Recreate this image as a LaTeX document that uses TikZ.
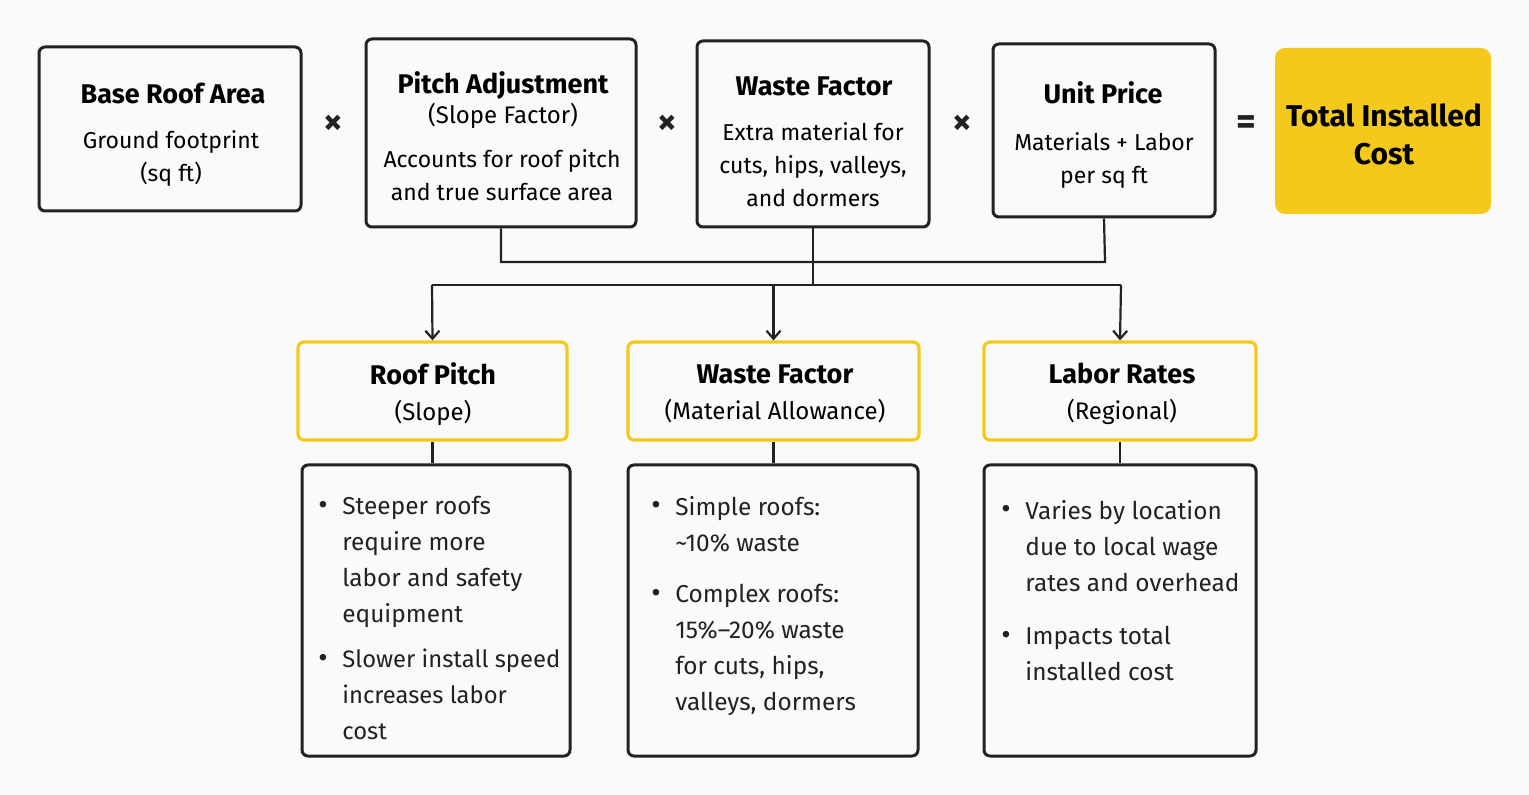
\documentclass[tikz,border=0pt]{standalone}
\usepackage{fontspec}
\setmainfont{Fira Sans}
\usetikzlibrary{arrows.meta}
\definecolor{ylw}{HTML}{F5C91C}
\definecolor{ink}{HTML}{222222}
\newcommand{\bul}{\raisebox{0.3pt}{\Large\textbullet}}
\newcommand{\blist}[1]{\begin{tabular}{@{}p{9pt}@{\hspace{3pt}}l@{}}#1\end{tabular}}
\begin{document}
\begin{tikzpicture}[x=0.5pt,y=-0.5pt,
  top/.style={draw=ink,line width=1.5pt,rounded corners=3pt,align=center,inner sep=0pt},
  ybox/.style={draw=ylw,line width=1.6pt,rounded corners=3pt,align=center,inner sep=0pt,minimum height=49pt},
  bbox/.style={draw=ink,line width=1.5pt,rounded corners=3pt,inner sep=0pt,minimum height=145.5pt},
  ttl/.style={font=\fontsize{13.5}{16}\selectfont\bfseries},
  op/.style={font=\fontsize{19}{19}\selectfont\bfseries,text=ink},
  con/.style={draw=ink,line width=1.1pt},
  arr/.style={con,-{Straight Barb[length=4pt,width=7pt]}},
  bt/.style={anchor=north west,inner sep=0pt,font=\fontsize{12.2}{18}\selectfont,text=ink}]
\fill[white!98!black] (0,0) rectangle (1529,795);
\useasboundingbox (0,0) rectangle (1529,795);
% top row
\node[top,minimum width=131pt,minimum height=82pt] (base) at (170,129) {};
\node[ttl] (baset) at (173,93) {Base Roof Area};
\node[align=center,font=\fontsize{11.5}{16.5}\selectfont] (baseb) at (171,158) {Ground footprint\\(sq ft)};
\node[top,minimum width=135pt,minimum height=94pt] (pitch) at (501,133) {};
\node[ttl,align=center] (pitcht) at (503,100) {Pitch Adjustment\\[-1pt]\fontsize{12}{16}\selectfont\mdseries(Slope Factor)};
\node[align=center,font=\fontsize{11.5}{16.5}\selectfont] (pitchb) at (502,175) {Accounts for roof pitch\\and true surface area};
\node[top,minimum width=116pt,minimum height=93pt] (waste) at (813,134) {};
\node[ttl] (wastet) at (814,86) {Waste Factor};
\node[align=center,font=\fontsize{11.5}{16.5}\selectfont] (wasteb) at (813,165) {Extra material for\\cuts, hips, valleys,\\and dormers};
\node[top,minimum width=111pt,minimum height=86.5pt] (unit) at (1104,130.5) {};
\node[ttl] (unitt) at (1103,93) {Unit Price};
\node[align=center,font=\fontsize{11.5}{16.5}\selectfont] (unitb) at (1104,160) {Materials + Labor\\per sq ft};
\node[fill=ylw,rounded corners=5pt,minimum width=108pt,minimum height=83pt,inner sep=0pt] (total) at (1383,131) {};
\node[ttl,align=center,font=\fontsize{15}{19}\selectfont\bfseries] (totalt) at (1384,134) {Total Installed\\Cost};
\node[op] (x1) at (333,125) {×};
\node[op] (x2) at (667,125) {×};
\node[op] (x3) at (962,125) {×};
\node[op] (eq) at (1246,125) {=};
% connectors
\coordinate (j1) at (501,262);
\coordinate (j2) at (1105,262);
\coordinate (hl) at (432,285);
\coordinate (hr) at (1121,285);
\draw[con] (pitch.south) -- (j1) -- (j2) -- (unit.south);
\draw[con] (waste.south) -- (waste.south|-hl);
\draw[con] (hl) -- (hr);
% middle row
\node[ybox,minimum width=134.5pt] (rp) at (432.5,391) {};
\node[ybox,minimum width=145.5pt] (wf) at (773.5,391) {};
\node[ybox,minimum width=136pt] (lr) at (1120,391) {};
\node[align=center,font=\fontsize{12}{18}\selectfont] at (433,394) {\fontsize{13.5}{18}\selectfont\bfseries Roof Pitch\\(Slope)};
\node[align=center,font=\fontsize{12}{18}\selectfont] at (775,394) {\fontsize{13.5}{18}\selectfont\bfseries Waste Factor\\(Material Allowance)};
\node[align=center,font=\fontsize{12}{18}\selectfont] at (1122,394) {\fontsize{13.5}{18}\selectfont\bfseries Labor Rates\\(Regional)};
\draw[arr] (hl) -- (rp.north);
\draw[arr] (wf.north|-hl) -- (wf.north);
\draw[arr] (hr) -- (lr.north);
% bottom row
\node[bbox,minimum width=134pt] (b1) at (436,610.5) {};
\node[bbox,minimum width=145pt] (b2) at (773,610.5) {};
\node[bbox,minimum width=136pt] (b3) at (1120,610.5) {};
\draw[con] (rp.south) -- (rp.south|-b1.north);
\draw[con] (wf.south) -- (wf.south|-b2.north);
\draw[con] (lr.south) -- (lr.south|-b3.north);
\node[bt] at (318,489) {\blist{\bul & Steeper roofs\\ & require more\\ & labor and safety\\ & equipment}};
\node[bt,font=\fontsize{11.9}{18}\selectfont] at (318,642) {\blist{\bul & Slower install speed\\ & increases labor\\ & cost}};
\node[bt] at (651,490) {\blist{\bul & Simple roofs:\\ & \textasciitilde10\% waste}};
\node[bt] at (651,577) {\blist{\bul & Complex roofs:\\ & 15\%–20\% waste\\ & for cuts, hips,\\ & valleys, dormers}};
\node[bt] at (1001,494) {\blist{\bul & Varies by location\\ & due to local wage\\ & rates and overhead}};
\node[bt] at (1001,619) {\blist{\bul & Impacts total\\ & installed cost}};
\end{tikzpicture}
\end{document}
